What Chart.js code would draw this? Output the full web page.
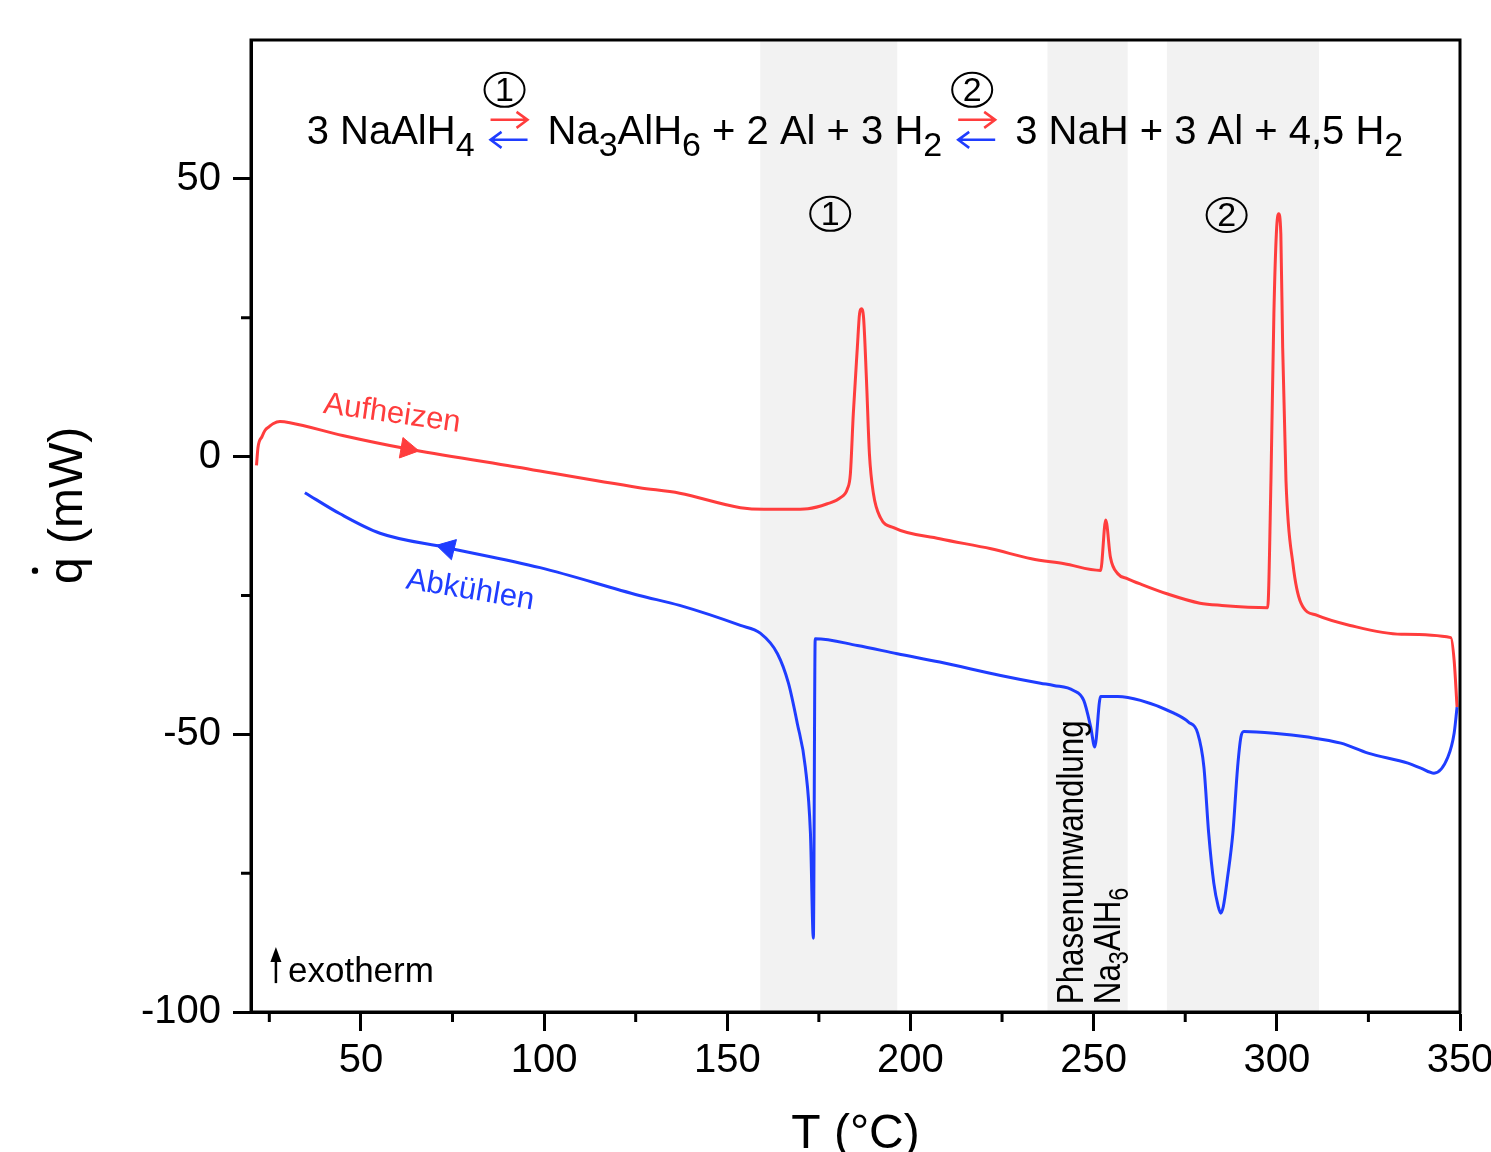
<!DOCTYPE html>
<html>
<head>
<meta charset="utf-8">
<script src="https://cdn.jsdelivr.net/npm/chart.js@4.4.1/dist/chart.umd.min.js"></script>
<style>
html, body { margin: 0; padding: 0; background: #fff; overflow: hidden; }
canvas { display: block; }
</style>
</head>
<body>
<canvas id="dsc" width="1491" height="1164"></canvas>
<script>
// DSC Aufheizen / Abkühlen NaAlH4
const heatT = [21.5, 21.9, 23, 23.8, 25, 26, 27.9, 30.6, 45, 62.6, 90, 126, 137, 153.6, 160, 167, 172, 177.3, 180.9, 182.8, 183.6, 184.4, 185.5, 186.1, 186.6, 187.2, 188, 188.8, 189.9, 191.8, 195.4, 208, 222, 233, 242, 251.9, 253.3, 254.6, 256.6, 259.3, 263, 270, 279, 285, 297.5, 298.4, 299.2, 299.9, 300.5, 301.1, 301.6, 302.5, 304.4, 306.6, 311, 320, 334, 347.5, 348.4, 349.2];
const heatQ = [-1.6, 1.6, 3.6, 4.7, 5.4, 5.9, 6.3, 6.1, 3.8, 1.4, -1.6, -5.6, -6.6, -9.2, -9.5, -9.5, -9.4, -8.5, -7.4, -5.8, -3.1, 7.7, 19.6, 25.7, 26.6, 25, 13.7, 0.5, -6.7, -11, -12.8, -14.8, -16.6, -18.4, -19.3, -20.5, -11.4, -18.2, -21.1, -22, -23, -24.7, -26.4, -26.8, -27.2, -4.3, 25.7, 40.5, 43.7, 40, 19.6, -4.3, -19.3, -26.4, -28.6, -30.4, -32, -32.6, -36.7, -45.1];

const coolT = [34.7, 44.3, 55.2, 73.5, 98.9, 126, 137, 153.6, 159, 163.7, 166.7, 169.1, 171.3, 172.7, 173.5, 174, 185.5, 196.4, 208, 224.6, 235.5, 239.1, 244.5, 247.3, 249.2, 250.3, 251.9, 256.6, 262.8, 271.9, 275.9, 278.4, 280.1, 281.4, 282.8, 284, 284.7, 285.4, 286.5, 288, 289.3, 290.2, 291, 299.2, 308.5, 317.5, 324.9, 335.8, 339.3, 342.9, 346.7, 348.4, 349.2];
const coolQ = [-6.5, -10.3, -13.8, -16.4, -20, -25, -26.8, -30.4, -31.8, -35.5, -40.8, -48, -55.9, -67.8, -86.7, -32.8, -34, -35.5, -37, -39.4, -40.8, -41.2, -42.1, -43.9, -48.7, -52.3, -43.2, -43.2, -43.9, -46.2, -47.8, -49.8, -55.9, -67.8, -76.8, -81, -82.2, -81, -76, -67.8, -55.9, -50.5, -49.5, -49.8, -50.5, -51.6, -53.4, -55.2, -56.1, -57, -54.1, -49.8, -45.1];

// Richtungspfeile auf den Kurven
const heatArrowT = [62.6], heatArrowQ = [1.4];
const coolArrowT = [73.8], coolArrowQ = [-16.5];

// Achsen
const xTicks = [50, 100, 150, 200, 250, 300, 350];
const xMinor = [25, 75, 125, 175, 225, 275, 325];
const yTicks = [-100, -50, 0, 50];
const yMinor = [-75, -25, 25];

// graue Bereiche (T in °C)
const bands = [[159, 196.4], [237.4, 259.3], [270, 311.5]];

const RED = '#ff3d3d';
const BLUE = '#1f3dff';
const FONT = '"Liberation Sans", Arial, sans-serif';

function pts(xs, ys) {
    return xs.map((v, i) => ({ x: v, y: ys[i] }));
}

// Text mit Tiefstellungen, links ausgerichtet auf der Grundlinie
function drawRich(ctx, parts, x, y, size, subSize, subDy) {
    let cx = x;
    parts.forEach(p => {
        const sub = Array.isArray(p);
        const t = sub ? p[0] : p;
        ctx.font = (sub ? subSize : size) + 'px ' + FONT;
        ctx.fillText(t, cx, y + (sub ? subDy : 0));
        cx += ctx.measureText(t).width;
    });
    return cx;
}

function drawCircled(ctx, cx, cy, n) {
    ctx.save();
    ctx.strokeStyle = '#000';
    ctx.lineWidth = 2;
    ctx.beginPath();
    ctx.ellipse(cx, cy, 20, 17, 0, 0, Math.PI * 2);
    ctx.stroke();
    ctx.font = '34px ' + FONT;
    ctx.textAlign = 'center';
    ctx.textBaseline = 'middle';
    ctx.fillStyle = '#000';
    ctx.fillText(n, cx, cy + 2);
    ctx.restore();
}

function drawEqArrows(ctx, x, base, w) {
    ctx.save();
    ctx.lineWidth = 2.5;
    // hin (rot)
    let y = base - 24;
    ctx.strokeStyle = RED;
    ctx.beginPath();
    ctx.moveTo(x, y); ctx.lineTo(x + w, y);
    ctx.moveTo(x + w - 11, y - 8); ctx.lineTo(x + w, y); ctx.lineTo(x + w - 11, y + 8);
    ctx.stroke();
    // rück (blau)
    y = base - 4;
    ctx.strokeStyle = BLUE;
    ctx.beginPath();
    ctx.moveTo(x + w, y); ctx.lineTo(x, y);
    ctx.moveTo(x + 11, y - 8); ctx.lineTo(x, y); ctx.lineTo(x + 11, y + 8);
    ctx.stroke();
    ctx.restore();
}

function drawEquation(ctx, x0, base) {
    ctx.fillStyle = '#000';
    ctx.textAlign = 'left';
    ctx.textBaseline = 'alphabetic';
    let cx = x0;
    const arrows = n => {
        cx += 16;
        drawEqArrows(ctx, cx, base, 37);
        drawCircled(ctx, cx + 14, base - 54, n);
        cx += 37 + 20;
    };
    cx = drawRich(ctx, ['3 NaAlH', ['4']], cx, base, 40, 34, 12);
    arrows('1');
    cx = drawRich(ctx, ['Na', ['3'], 'AlH', ['6'], ' + 2 Al + 3 H', ['2']], cx, base, 40, 34, 12);
    arrows('2');
    drawRich(ctx, ['3 NaH + 3 Al + 4,5 H', ['2']], cx, base, 40, 34, 12);
}

const decor = {
    id: 'decor',
    beforeDatasetsDraw(chart) {
        const { ctx, chartArea: a, scales: { x } } = chart;
        ctx.save();
        ctx.fillStyle = '#f2f2f2';
        bands.forEach(([b0, b1]) => {
            const p0 = x.getPixelForValue(b0), p1 = x.getPixelForValue(b1);
            ctx.fillRect(p0, a.top, p1 - p0, a.bottom - a.top);
        });
        ctx.restore();
    },
    afterDatasetsDraw(chart) {
        const { ctx, chartArea: a, scales: { x, y } } = chart;
        const P = (xv, yv) => [x.getPixelForValue(xv), y.getPixelForValue(yv)];
        ctx.save();

        // Rahmen
        ctx.strokeStyle = '#000';
        ctx.lineWidth = 3;
        ctx.strokeRect(a.left, a.top, a.right - a.left, a.bottom - a.top);

        // Nebenstriche
        ctx.beginPath();
        xMinor.forEach(v => {
            const px = x.getPixelForValue(v);
            ctx.moveTo(px, a.bottom); ctx.lineTo(px, a.bottom + 10);
        });
        yMinor.forEach(v => {
            const py = y.getPixelForValue(v);
            ctx.moveTo(a.left, py); ctx.lineTo(a.left - 10, py);
        });
        ctx.stroke();

        // y-Achsentitel q-Punkt (mW)
        ctx.save();
        ctx.fillStyle = '#000';
        ctx.translate(82, 584);
        ctx.rotate(-Math.PI / 2);
        ctx.font = '48px ' + FONT;
        ctx.textAlign = 'left';
        ctx.textBaseline = 'alphabetic';
        ctx.fillText('q (mW)', 0, 0);
        const qw = ctx.measureText('q').width;
        ctx.beginPath();
        ctx.arc(qw / 2, -47, 3.2, 0, Math.PI * 2);
        ctx.fill();
        ctx.restore();

        // Reaktionsgleichung
        let [ex, ey] = P(35.2, 56.3);
        drawEquation(ctx, ex, ey);

        // Peak-Nummern
        let [c1x, c1y] = P(178.1, 43.7);
        drawCircled(ctx, c1x, c1y, '1');
        let [c2x, c2y] = P(286.3, 43.5);
        drawCircled(ctx, c2x, c2y, '2');

        // Aufheizen / Abkühlen
        ctx.textAlign = 'center';
        ctx.textBaseline = 'middle';
        ctx.font = '31px ' + FONT;
        let [hx, hy] = P(58.5, 7.7);
        ctx.save();
        ctx.translate(hx, hy);
        ctx.rotate(8 * Math.PI / 180);
        ctx.fillStyle = RED;
        ctx.fillText('Aufheizen', 0, 0);
        ctx.restore();
        let [kx, ky] = P(79.8, -24.1);
        ctx.save();
        ctx.translate(kx, ky);
        ctx.rotate(9.5 * Math.PI / 180);
        ctx.fillStyle = BLUE;
        ctx.fillText('Abkühlen', 0, 0);
        ctx.restore();

        // exotherm
        ctx.fillStyle = '#000';
        ctx.strokeStyle = '#000';
        let [ax, ay] = P(26.8, -94.8);
        ctx.lineWidth = 2.5;
        ctx.beginPath();
        ctx.moveTo(ax, ay); ctx.lineTo(ax, ay - 24);
        ctx.stroke();
        ctx.beginPath();
        ctx.moveTo(ax, ay - 36); ctx.lineTo(ax - 5.5, ay - 21); ctx.lineTo(ax + 5.5, ay - 21);
        ctx.closePath();
        ctx.fill();
        ctx.textAlign = 'left';
        ctx.textBaseline = 'alphabetic';
        ctx.font = '35px ' + FONT;
        let [tx, ty] = P(30.1, -94.6);
        ctx.fillText('exotherm', tx, ty);

        // Phasenumwandlung Na3AlH6 (schmal gesetzt)
        let [p1x, p1y] = P(247.1, -98.6);
        ctx.save();
        ctx.translate(p1x, p1y);
        ctx.rotate(-Math.PI / 2);
        ctx.scale(0.87, 1);
        drawRich(ctx, ['Phasenumwandlung'], 0, 0, 36, 27, 8);
        ctx.restore();
        let [p2x, p2y] = P(257.3, -98.6);
        ctx.save();
        ctx.translate(p2x, p2y);
        ctx.rotate(-Math.PI / 2);
        ctx.scale(0.87, 1);
        drawRich(ctx, ['Na', ['3'], 'AlH', ['6']], 0, 0, 36, 27, 8);
        ctx.restore();

        ctx.restore();
    }
};

new Chart(document.getElementById('dsc'), {
    type: 'line',
    data: {
        datasets: [
            {
                label: 'Abkühlen',
                data: pts(coolT, coolQ),
                borderColor: BLUE,
                borderWidth: 3,
                pointRadius: 0,
                cubicInterpolationMode: 'monotone'
            },
            {
                label: 'Aufheizen',
                data: pts(heatT, heatQ),
                borderColor: RED,
                borderWidth: 3,
                pointRadius: 0,
                cubicInterpolationMode: 'monotone'
            },
            {
                label: 'Pfeil heiz',
                data: pts(heatArrowT, heatArrowQ),
                showLine: false,
                pointStyle: 'triangle',
                pointRadius: 12,
                pointRotation: 100,
                backgroundColor: RED,
                borderColor: RED,
                borderWidth: 1
            },
            {
                label: 'Pfeil kühl',
                data: pts(coolArrowT, coolArrowQ),
                showLine: false,
                pointStyle: 'triangle',
                pointRadius: 12,
                pointRotation: 284,
                backgroundColor: BLUE,
                borderColor: BLUE,
                borderWidth: 1
            }
        ]
    },
    options: {
        responsive: false,
        devicePixelRatio: 1,
        animation: false,
        layout: { padding: { left: 0, right: 31, top: 40, bottom: 0 } },
        plugins: {
            legend: { display: false },
            tooltip: { enabled: false }
        },
        scales: {
            x: {
                type: 'linear',
                min: 20,
                max: 350,
                afterBuildTicks: s => { s.ticks = xTicks.map(v => ({ value: v })); },
                afterFit: s => { s.height = 152; s.paddingLeft = 0; s.paddingRight = 0; },
                grid: { drawOnChartArea: false, drawTicks: true, tickLength: 19, tickWidth: 3, tickColor: '#000' },
                border: { display: true, width: 3, color: '#000' },
                ticks: { font: { family: FONT, size: 40 }, color: '#000', padding: 6, maxRotation: 0, autoSkip: false },
                title: { display: true, text: 'T (°C)', font: { family: FONT, size: 48 }, color: '#000', padding: { top: 0, bottom: 0 } }
            },
            y: {
                type: 'linear',
                min: -100,
                max: 75,
                afterBuildTicks: s => { s.ticks = yTicks.map(v => ({ value: v })); },
                afterFit: s => { s.width = 251; s.paddingTop = 0; s.paddingBottom = 0; },
                grid: { drawOnChartArea: false, drawTicks: true, tickLength: 18, tickWidth: 3, tickColor: '#000' },
                border: { display: true, width: 3, color: '#000' },
                ticks: { font: { family: FONT, size: 40 }, color: '#000', padding: 12, autoSkip: false },
                title: { display: false }
            }
        }
    },
    plugins: [decor]
});
</script>
</body>
</html>
